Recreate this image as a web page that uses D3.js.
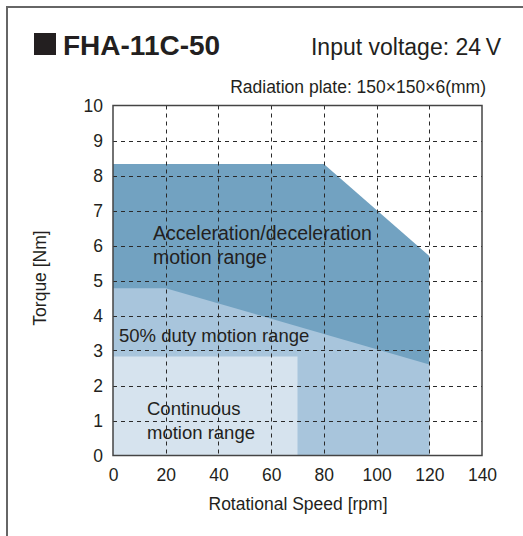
<!DOCTYPE html>
<html>
<head>
<meta charset="utf-8">
<script src="https://cdn.jsdelivr.net/npm/d3@7"></script>
<style>
  html, body { margin: 0; padding: 0; background: #fff; }
  svg { display: block; font-family: "Liberation Sans", Arial, sans-serif; }
</style>
</head>
<body>
<svg id="chart" width="523" height="536"></svg>
<script>
// ---- data ----
const title = "FHA-11C-50";
const subtitle = "Input voltage: 24\u2009V";
const note = "Radiation plate: 150\u00d7150\u00d76(mm)";
const xTicks = [0, 20, 40, 60, 80, 100, 120, 140];
const yTicks = [0, 1, 2, 3, 4, 5, 6, 7, 8, 9, 10];
// boundary of each region: [speed rpm, torque Nm]
const accelRange = [[0, 8.33], [80, 8.33], [120, 5.7], [120, 0], [0, 0]];
const dutyRange = [[0, 4.78], [20, 4.78], [120, 2.6], [120, 0], [0, 0]];
const contRange = [[0, 2.83], [70, 2.83], [70, 0], [0, 0]];
const regionColors = ["#72a2c1", "#a8c5dc", "#d6e3ee"];

const svg = d3.select("#chart");
const x = d3.scaleLinear().domain([0, 140]).range([113, 482]);
const y = d3.scaleLinear().domain([0, 10]).range([455.5, 105.5]);

// outer frame (top and left edges)
svg.append("path").attr("d", "M7,536 V7 H523")
  .attr("fill", "none").attr("stroke", "#666").attr("stroke-width", 2);

// header
svg.append("rect").attr("x", 34).attr("y", 33).attr("width", 22).attr("height", 22).attr("fill", "#231f20");
svg.append("text").attr("x", 63).attr("y", 55).attr("font-size", 28).attr("font-weight", "bold")
  .attr("fill", "#231f20").text(title);
svg.append("text").attr("x", 501).attr("y", 55).attr("text-anchor", "end").attr("font-size", 23)
  .attr("fill", "#231f20").text(subtitle);
svg.append("text").attr("x", 486).attr("y", 93).attr("text-anchor", "end").attr("font-size", 17.5)
  .attr("fill", "#231f20").text(note);

// regions
const line = d3.line().x(d => x(d[0])).y(d => y(d[1]));
[accelRange, dutyRange, contRange].forEach((r, i) => {
  svg.append("path").attr("d", line(r) + "Z").attr("fill", regionColors[i]);
});

// grid
const g = svg.append("g").attr("stroke", "#2a2a2a").attr("stroke-width", 1).attr("stroke-dasharray", "4,4");
yTicks.slice(1, -1).forEach(t => {
  g.append("line").attr("x1", x(0)).attr("x2", x(140)).attr("y1", Math.round(y(t)) + 0.5).attr("y2", Math.round(y(t)) + 0.5);
});
xTicks.slice(1, -1).forEach(t => {
  g.append("line").attr("x1", Math.round(x(t)) + 0.5).attr("x2", Math.round(x(t)) + 0.5).attr("y1", y(10)).attr("y2", y(0));
});

// axes
const xAxis = d3.axisBottom(x).tickValues(xTicks).tickSize(0);
const yAxis = d3.axisLeft(y).tickValues(yTicks).tickSize(0).tickPadding(10);
const gx = svg.append("g").attr("transform", `translate(0,${y(0)})`).call(xAxis);
const gy = svg.append("g").attr("transform", `translate(${x(0)},0)`).call(yAxis);
[gx, gy].forEach(a => {
  a.select(".domain").remove();
  a.selectAll("text").attr("font-size", 17.5).attr("fill", "#231f20").attr("font-family", "Liberation Sans, Arial, sans-serif");
});
gx.selectAll("text").attr("dy", null).attr("y", 25);
gy.selectAll("text").attr("dy", "0.36em");

// plot frame
svg.append("rect").attr("x", x(0)).attr("y", y(10)).attr("width", x(140) - x(0)).attr("height", y(0) - y(10))
  .attr("fill", "none").attr("stroke", "#444").attr("stroke-width", 1.5);

// axis titles
svg.append("text").attr("x", 298).attr("y", 510).attr("text-anchor", "middle").attr("font-size", 17.5)
  .attr("fill", "#231f20").text("Rotational Speed [rpm]");
svg.append("text").attr("transform", "translate(46,278) rotate(-90)").attr("text-anchor", "middle")
  .attr("font-size", 17.5).attr("fill", "#231f20").text("Torque [Nm]");

// region labels
const lbl = (tx, ty, s, fs) => svg.append("text").attr("x", tx).attr("y", ty).attr("font-size", fs)
  .attr("fill", "#231f20").text(s);
lbl(153, 240, "Acceleration/deceleration", 19.5);
lbl(153, 264, "motion range", 19.5);
lbl(119, 342, "50% duty motion range", 18.5);
lbl(147, 415, "Continuous", 18.5);
lbl(147, 439, "motion range", 18.5);
</script>
</body>
</html>
